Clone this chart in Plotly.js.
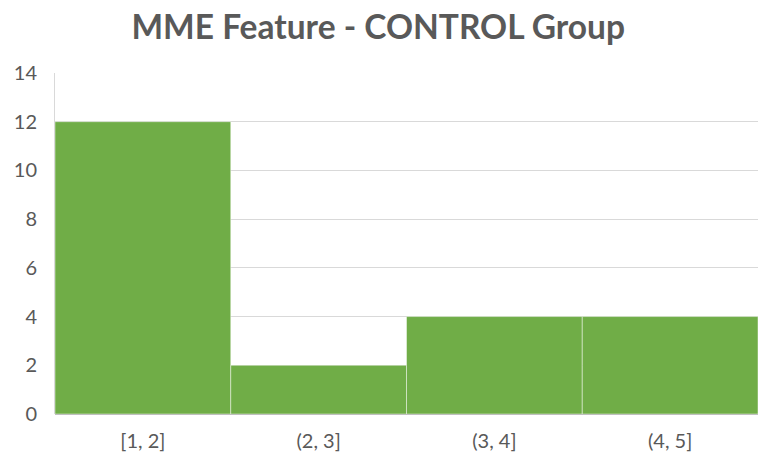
<!DOCTYPE html>
<html><head><meta charset="utf-8">
<script src="https://cdn.plot.ly/plotly-3.0.1.min.js"></script>
<style>body{margin:0;background:#fff}#chart{width:761px;height:462px}</style>
</head><body><div id="chart"></div>
<script>
const categories = ["[1, 2]", "(2, 3]", "(3, 4]", "(4, 5]"];
const counts = [12, 2, 4, 4];
const yTicks = [0, 2, 4, 6, 8, 10, 12, 14];
const titleText = "MME Feature - CONTROL Group";

const font = "Lato, 'Open Sans', sans-serif";
Plotly.newPlot("chart", [{
  type: "bar",
  x: categories,
  y: counts,
  marker: {color: "#70ad47", line: {color: "rgba(255,255,255,0.45)", width: 1}},
  hoverinfo: "x+y"
}], {
  width: 761, height: 462,
  margin: {l: 55, r: 3, t: 73, b: 48},
  paper_bgcolor: "#fff", plot_bgcolor: "#fff",
  bargap: 0,
  title: {text: "<b>" + titleText + "</b>", font: {family: font, size: 33.5, color: "#595959"}, x: 0.497, xanchor: "center", y: 0.94, yanchor: "middle"},
  xaxis: {type: "category", tickfont: {family: font, size: 20, color: "#595959"}, showgrid: false, showline: false, ticks: "", ticklabelstandoff: 13},
  yaxis: {range: [0, 14], tickvals: yTicks, tickfont: {family: font, size: 20, color: "#595959"}, gridcolor: "#d9d9d9", gridwidth: 1, zeroline: true, zerolinecolor: "#bfbfbf", zerolinewidth: 1, showline: true, linecolor: "#d9d9d9", ticks: "", ticklabelstandoff: 13},
  showlegend: false
}, {displayModeBar: false, staticPlot: true});
</script></body></html>
